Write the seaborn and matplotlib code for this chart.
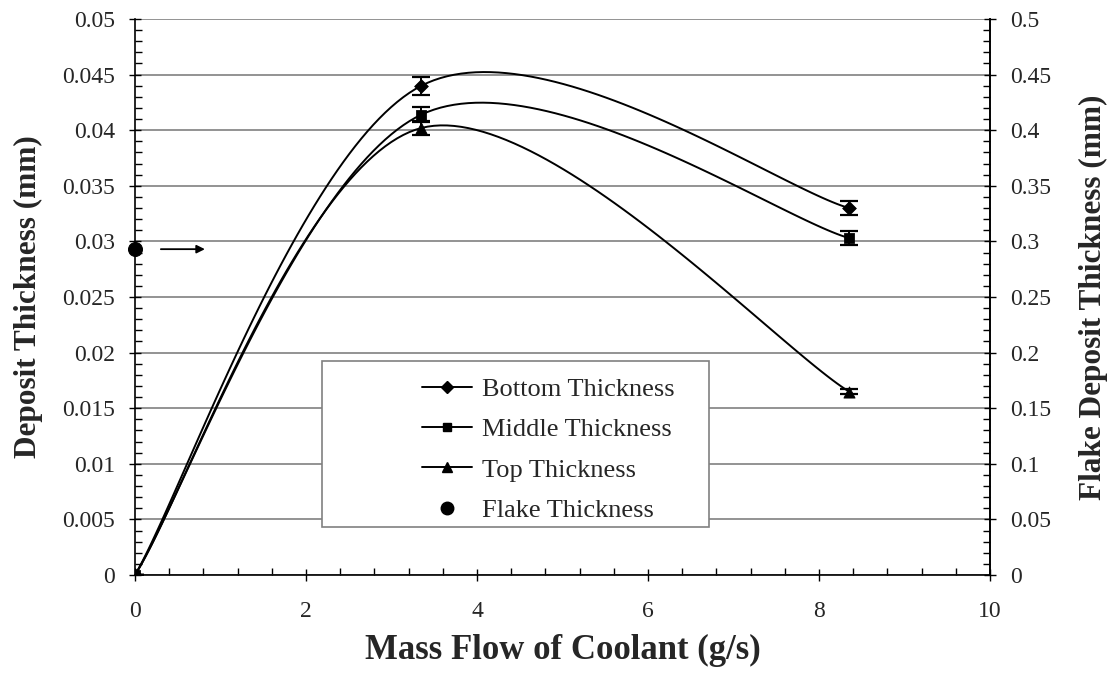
import numpy as np
import pandas as pd
import matplotlib
matplotlib.use("Agg")
import matplotlib.pyplot as plt
from matplotlib.ticker import MultipleLocator, FuncFormatter
from matplotlib.lines import Line2D
from matplotlib.patches import Rectangle
import seaborn as sns

# Measured deposit thickness vs coolant mass flow
flow = [0.0, 3.35, 8.35]
bottom = [0.0, 0.0440, 0.0330]
middle = [0.0, 0.0414, 0.0303]
top = [0.0, 0.0402, 0.0165]
bottom_err = [0.0, 0.0008, 0.0006]
middle_err = [0.0, 0.0007, 0.0006]
top_err = [0.0, 0.0006, 0.0002]

# Flake thickness (right axis, mm)
flake_flow = [0.0]
flake = [0.293]

series_names = ["Bottom Thickness", "Middle Thickness", "Top Thickness"]
series_markers = ["D", "s", "^"]
series_msize = [7, 7, 8]


def smooth_curve(xs, ys, n=60):
    """Piecewise cubic Bezier smoothing through the points (spreadsheet style)."""
    pts = np.column_stack([xs, ys]).astype(float)
    out = []
    for i in range(len(pts) - 1):
        p0 = pts[i - 1] if i > 0 else pts[i]
        p1 = pts[i]
        p2 = pts[i + 1]
        p3 = pts[i + 2] if i + 2 < len(pts) else pts[i + 1]
        c1 = p1 + (p2 - p0) / 6.0
        c2 = p2 - (p3 - p1) / 6.0
        t = np.linspace(0, 1, n)[:, None]
        seg = ((1 - t) ** 3) * p1 + 3 * ((1 - t) ** 2) * t * c1 + 3 * (1 - t) * t ** 2 * c2 + t ** 3 * p2
        out.append(seg if i == 0 else seg[1:])
    return np.vstack(out)


def fmt(v, p):
    return "0" if abs(v) < 1e-12 else f"{v:g}"


sns.set_style("white")
plt.rcParams["font.family"] = ["Liberation Serif", "DejaVu Serif"]

fig = plt.figure(figsize=(11.12, 6.85), dpi=100)
ax = fig.add_axes([0.1214, 0.1606, 0.7689, 0.8117])

frames = []
for name, ys in zip(series_names, [bottom, middle, top]):
    c = smooth_curve(flow, ys)
    frames.append(pd.DataFrame({"x": c[:, 0], "y": c[:, 1], "series": name}))
curves = pd.concat(frames, ignore_index=True)

sns.lineplot(data=curves, x="x", y="y", units="series", estimator=None, sort=False,
             color="black", linewidth=1.4, ax=ax, legend=False)

for ys, errs, mk, ms in zip([bottom, middle, top], [bottom_err, middle_err, top_err],
                            series_markers, series_msize):
    ax.errorbar(flow, ys, yerr=errs, fmt="none", ecolor="black", elinewidth=1.4,
                capsize=6.5, capthick=1.6, zorder=3)
    sns.scatterplot(x=flow, y=ys, marker=mk, s=ms ** 2, color="black",
                    edgecolor="black", ax=ax, zorder=4, legend=False)

ax.set_xlim(0, 10)
ax.set_ylim(0, 0.05)
ax.xaxis.set_major_locator(MultipleLocator(2))
ax.xaxis.set_minor_locator(MultipleLocator(0.4))
ax.yaxis.set_major_locator(MultipleLocator(0.005))
ax.yaxis.set_minor_locator(MultipleLocator(0.001))
ax.yaxis.set_major_formatter(FuncFormatter(fmt))
ax.yaxis.grid(True, which="major", color="#808080", linewidth=1.2)
ax.set_axisbelow(True)
ax.tick_params(axis="both", which="major", direction="inout", length=9, width=1.0,
               labelsize=17, color="black")
ax.tick_params(axis="x", which="major", pad=14)
ax.tick_params(axis="y", which="major", pad=10)
ax.tick_params(axis="both", which="minor", direction="in", length=5, width=1.0, color="black")
ax.tick_params(left=True, bottom=True, which="both")

for side in ["left", "bottom", "right"]:
    ax.spines[side].set_color("black")
    ax.spines[side].set_linewidth(1.2)
ax.spines["top"].set_visible(False)

ax.set_xlabel("Mass Flow of Coolant (g/s)", fontsize=25, fontweight="bold", labelpad=9)
ax.set_ylabel("Deposit Thickness (mm)", fontsize=22.5, fontweight="bold", labelpad=14)

ax2 = ax.twinx()
ax2.set_ylim(0, 0.5)
ax2.yaxis.set_major_locator(MultipleLocator(0.05))
ax2.yaxis.set_minor_locator(MultipleLocator(0.01))
ax2.yaxis.set_major_formatter(FuncFormatter(fmt))
ax2.tick_params(axis="y", which="major", direction="inout", length=9, width=1.0,
                labelsize=17, color="black", pad=10)
ax2.tick_params(axis="y", which="minor", direction="in", length=5, width=1.0, color="black")
ax2.tick_params(right=True, which="both")
for side in ["left", "bottom", "top"]:
    ax2.spines[side].set_visible(False)
ax2.spines["right"].set_color("black")
ax2.spines["right"].set_linewidth(1.2)
ax2.set_ylabel("Flake Deposit Thickness (mm)", fontsize=22.5, fontweight="bold", labelpad=20)

sns.scatterplot(x=flake_flow, y=flake, marker="o", s=10 ** 2, color="black",
                edgecolor="black", ax=ax2, zorder=5, legend=False, clip_on=False)
ax2.annotate("", xy=(0.85, flake[0]), xytext=(0.27, flake[0]),
             arrowprops=dict(arrowstyle="-|>", color="black", lw=1.3, mutation_scale=12))

# Legend: frame drawn as a rectangle, entries placed inside it
ax2.add_patch(Rectangle((0.219, 0.086), 0.452, 0.299, transform=ax2.transAxes,
                        facecolor="white", edgecolor="#808080", linewidth=1.2, zorder=6))
handles = [Line2D([0], [0], color="black", lw=1.4, marker=m, markersize=ms * 0.85)
           for m, ms in zip(series_markers, series_msize)]
handles.append(Line2D([0], [0], color="black", lw=0, marker="o", markersize=9))
leg = ax2.legend(handles, series_names + ["Flake Thickness"],
                 loc="upper left", bbox_to_anchor=(0.329, 0.365),
                 fontsize=19, frameon=False,
                 handlelength=1.9, handletextpad=0.4, borderpad=0.2, labelspacing=0.64,
                 borderaxespad=0)
leg.set_zorder(7)

fig.savefig("out.png", dpi=100)
